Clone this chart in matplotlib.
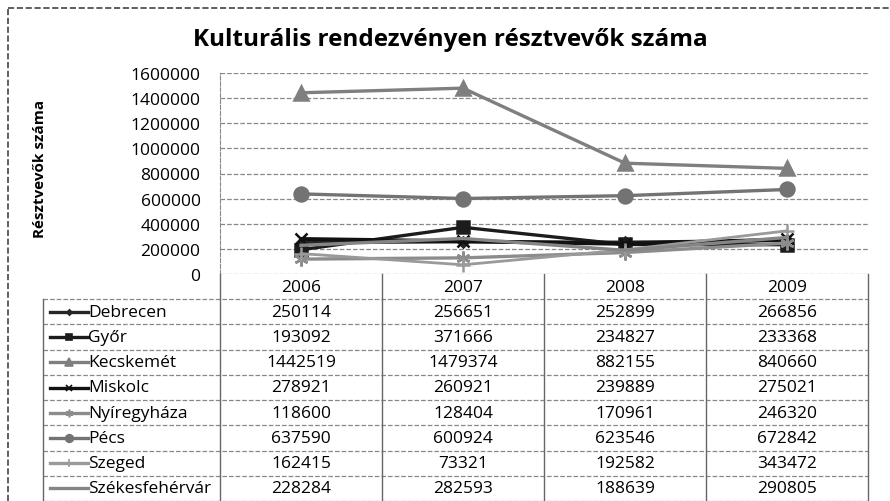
import matplotlib
matplotlib.use('Agg')
import matplotlib.pyplot as plt

plt.rcParams['font.family'] = ['Open Sans', 'DejaVu Sans']

# Adatok
years = ['2006', '2007', '2008', '2009']
cities = ['Debrecen', 'Győr', 'Kecskemét', 'Miskolc', 'Nyíregyháza', 'Pécs', 'Szeged', 'Székesfehérvár']
debrecen = [250114, 256651, 252899, 266856]
gyor = [193092, 371666, 234827, 233368]
kecskemet = [1442519, 1479374, 882155, 840660]
miskolc = [278921, 260921, 239889, 275021]
nyiregyhaza = [118600, 128404, 170961, 246320]
pecs = [637590, 600924, 623546, 672842]
szeged = [162415, 73321, 192582, 343472]
szekesfehervar = [228284, 282593, 188639, 290805]
values = [debrecen, gyor, kecskemet, miskolc, nyiregyhaza, pecs, szeged, szekesfehervar]

# stílusok: szín, marker, markerméret, vonalvastagság
styles = [
    ('#262626', 'D', 5, 2.4),
    ('#1c1c1c', 's', 9, 2.4),
    ('#7f7f7f', '^', 10, 2.4),
    ('#111111', 'x', 9, 2.8),
    ('#8c8c8c', (6, 2, 0), 10, 2.4),
    ('#737373', 'o', 10, 2.4),
    ('#9a9a9a', '+', 10, 2.0),
    ('#858585', None, 0, 2.4),
]

W, H = 890, 502
fig = plt.figure(figsize=(W / 100, H / 100), dpi=100)

# külső keret
fig.add_artist(plt.Line2D([8 / W, 8 / W], [0, 1 - 9 / H], color='#444444', lw=1.2, ls='--'))
fig.add_artist(plt.Line2D([8 / W, 1], [1 - 9 / H, 1 - 9 / H], color='#444444', lw=1.2, ls='--'))

ax = fig.add_axes([220 / W, 1 - 275 / H, 648 / W, 201 / H])
x = list(range(len(years)))
for vals, (c, m, ms, lw) in zip(values, styles):
    ax.plot(x, vals, color=c, lw=lw, marker=m, ms=ms, mfc=c, mec=c, mew=1.8)

ax.set_xlim(-0.5, 3.5)
ax.set_ylim(0, 1600000)
ax.set_yticks(range(0, 1600001, 200000))
ax.set_yticklabels([str(v) for v in range(0, 1600001, 200000)], fontsize=12.5)
ax.set_xticks([])
ax.tick_params(axis='y', length=0, pad=14)
ax.yaxis.grid(True, color='#888888', ls='--', lw=0.9)
ax.set_axisbelow(True)
for s in ['top', 'right', 'bottom']:
    ax.spines[s].set_visible(False)
ax.spines['left'].set_color('#888888')
ax.spines['left'].set_linestyle('--')
ax.set_facecolor('none')

fig.text(450 / W, 1 - 40 / H, 'Kulturális rendezvényen résztvevők száma',
         ha='center', va='center', fontsize=17.5, fontweight='bold')
fig.text(40 / W, 1 - 169 / H, 'Résztvevők száma', rotation=90,
         ha='center', va='center', fontsize=11, fontweight='bold')

# adattábla
tab = fig.add_axes([43 / W, 0, (868 - 43) / W, (H - 275) / H])
xl = -0.5 - 177 / 162
nrows = len(cities) + 1
tab.set_xlim(xl, 3.5)
tab.set_ylim(nrows, 0)
tab.axis('off')

for j, yr in enumerate(years):
    tab.text(j, 0.5, yr, ha='center', va='center', fontsize=12.5)
for i, (city, vals, (c, m, ms, lw)) in enumerate(zip(cities, values, styles)):
    yc = i + 1.5
    for j, v in enumerate(vals):
        tab.text(j, yc, str(v), ha='center', va='center', fontsize=12.5)
    tab.plot([xl + 0.045, xl + 0.28], [yc, yc], color=c, lw=2.4)
    if m is not None:
        tab.plot([xl + 0.162], [yc], color=c, marker=m, ms=ms * 0.55, mfc=c, mec=c, mew=1.2)
    tab.text(xl + 0.28, yc, city, ha='left', va='center', fontsize=12.5)

for r in range(1, nrows + 1):
    tab.plot([xl, 3.5], [r, r], color='#888888', lw=0.9, ls='--', clip_on=False)
for xv in [-0.5, 0.5, 1.5, 2.5, 3.5]:
    tab.plot([xv, xv], [0, nrows], color='#666666', lw=1.0, clip_on=False)
tab.plot([xl, xl], [1, nrows], color='#666666', lw=1.0, clip_on=False)

fig.savefig('out.png', dpi=100)
